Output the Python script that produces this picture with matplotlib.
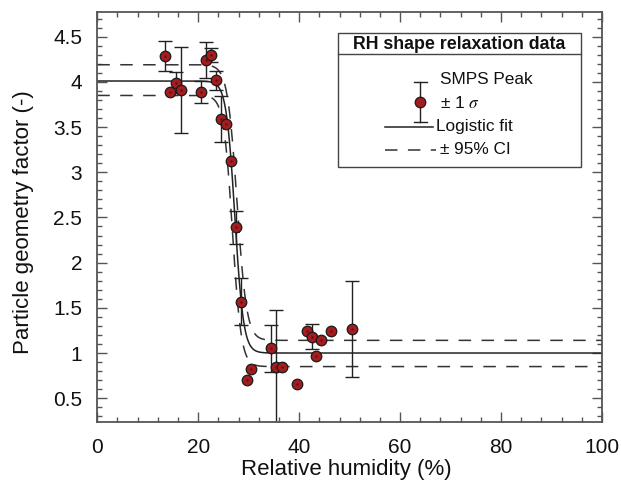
import numpy as np
import matplotlib
matplotlib.use("Agg")
import matplotlib.pyplot as plt
from matplotlib.patches import Rectangle
from matplotlib.lines import Line2D

plt.rcParams['font.family'] = ['Liberation Sans', 'DejaVu Sans']
plt.rcParams['mathtext.fontset'] = 'stix'
plt.rcParams['lines.scale_dashes'] = False

# ---- data ----
rh = [13.5, 14.5, 15.5, 16.6, 20.5, 21.5, 22.5, 23.5, 24.5, 25.5, 26.5,
      27.5, 28.5, 29.6, 30.4, 34.5, 35.5, 36.5, 39.5, 41.5, 42.5, 43.4,
      44.4, 46.4, 50.5]
factor = [4.29, 3.89, 3.99, 3.91, 3.89, 4.24, 4.30, 4.02, 3.59, 3.53, 3.13,
          2.39, 1.57, 0.70, 0.82, 1.05, 0.85, 0.85, 0.66, 1.24, 1.18, 0.97,
          1.14, 1.24, 1.27]
sigma = [0.165, 0.0, 0.117, 0.48, 0.12, 0.20, 0.078, 0.105, 0.255, 0.0, 0.0,
         0.18, 0.265, 0.0, 0.0, 0.263, 0.627, 0.0, 0.0, 0.0, 0.14, 0.0,
         0.0, 0.0, 0.53]

# logistic fit parameters: (low plateau, high plateau, centre, width)
fit_params = (1.00, 4.01, 27.26, 0.855)
ci_upper_params = (1.14, 4.19, 27.69, 0.95)
ci_lower_params = (0.85, 3.85, 26.77, 0.873)

x_ticks = [0, 20, 40, 60, 80, 100]
y_ticks = [0.5, 1, 1.5, 2, 2.5, 3, 3.5, 4, 4.5]
y_ticklabels = ['0.5', '1', '1.5', '2', '2.5', '3', '3.5', '4', '4.5']


def logistic(x, p):
    lo, hi, x0, w = p
    return lo + (hi - lo) / (1.0 + np.exp((x - x0) / w))


W, H = 621, 483
fig = plt.figure(figsize=(W / 100, H / 100), dpi=100)
ax = fig.add_axes([97.3 / W, 1 - 421.7 / H, (602 - 97.3) / W, (421.7 - 12.3) / H])

line_col = '#222222'
marker_col = '#A31C1F'

xx = np.linspace(0, 100, 2001)
ax.plot(xx, logistic(xx, fit_params), color=line_col, lw=1.1, zorder=2)
for p in (ci_upper_params, ci_lower_params):
    ax.plot(xx, logistic(xx, p), color='#333333', lw=1.1,
            dashes=(9, 7.5), zorder=2)

rh_a = np.array(rh)
f_a = np.array(factor)
s_a = np.array(sigma)
m = s_a > 0
ax.errorbar(rh_a[m], f_a[m], yerr=s_a[m], fmt='none', ecolor=line_col,
            elinewidth=1.0, capsize=4.7, capthick=1.0, zorder=2.5)
ax.plot(rh_a, f_a, 'o', ms=7.6, mfc=marker_col, mec='#1a1a1a', mew=0.9,
        zorder=3, clip_on=False)
ax.plot(rh_a, f_a, '.', ms=1.2, color='#5a0c0c', zorder=3.5)

ax.set_xlim(0, 100)
ax.set_ylim(0.24, 4.77)
ax.set_xticks(x_ticks)
ax.set_xticks(np.arange(0, 101, 4), minor=True)
ax.set_yticks(y_ticks)
ax.set_yticklabels(y_ticklabels)
ax.set_yticks(np.arange(0.3, 4.75, 0.1), minor=True)

spine_col = '#555555'
for s in ax.spines.values():
    s.set_color(spine_col)
    s.set_linewidth(1.3)
ax.tick_params(which='both', direction='in', top=True, right=True,
               color=spine_col, width=1.0, labelsize=15, labelcolor='#111111')
ax.tick_params(which='major', length=7.2)
ax.tick_params(which='minor', length=3.6)
ax.tick_params(axis='y', pad=11)
ax.tick_params(axis='x', pad=11.5)

ax.set_xlabel('Relative humidity (%)', fontsize=16, color='#111111')
ax.set_ylabel('Particle geometry factor (-)', fontsize=16, color='#111111')
ax.xaxis.set_label_coords(0.4928, -0.0918)
ax.yaxis.set_label_coords(-0.1264, 0.4885)


# ---- legend drawn in figure pixel space ----
def fx(x):
    return x / W


def fy(y):
    return 1 - y / H


leg_edge = '#444444'
fig.add_artist(Rectangle((fx(338.3), fy(166.7)), (580.7 - 338.3) / W,
                         (166.7 - 33.3) / H, transform=fig.transFigure,
                         facecolor='white', edgecolor=leg_edge, lw=1.0, zorder=5))
fig.add_artist(Line2D([fx(338.3), fx(580.7)], [fy(54), fy(54)],
                      transform=fig.transFigure, color=leg_edge, lw=1.0, zorder=6))
fig.text(fx(459.5), fy(44.5), 'RH shape relaxation data', ha='center', va='center',
         fontsize=12.8, fontweight='bold', color='#111111', zorder=7)
# errorbar sample
xe = 420
fig.add_artist(Line2D([fx(xe), fx(xe)], [fy(82.3), fy(121.7)],
                      transform=fig.transFigure, color=line_col, lw=1.0, zorder=6))
for yc in (82.3, 121.7):
    fig.add_artist(Line2D([fx(xe - 6.5), fx(xe + 6.5)], [fy(yc), fy(yc)],
                          transform=fig.transFigure, color=line_col, lw=1.0, zorder=6))
fig.add_artist(Line2D([fx(xe)], [fy(101.7)], transform=fig.transFigure,
                      marker='o', ms=7.6, mfc=marker_col, mec='#1a1a1a', mew=0.9,
                      zorder=7))
fig.text(fx(440), fy(80), 'SMPS Peak', ha='left', va='center', fontsize=12.4,
         color='#111111', zorder=7)
fig.text(fx(440), fy(103), r'± 1 $\sigma$', ha='left', va='center', fontsize=12.4,
         color='#111111', zorder=7)
fig.add_artist(Line2D([fx(385), fx(433)], [fy(127), fy(127)],
                      transform=fig.transFigure, color=line_col, lw=1.1, zorder=6))
fig.text(fx(436), fy(127), 'Logistic fit', ha='left', va='center', fontsize=12.4,
         color='#111111', zorder=7)
fig.add_artist(Line2D([fx(385), fx(436)], [fy(150), fy(150)],
                      transform=fig.transFigure, color='#333333', lw=1.1,
                      dashes=(9, 7.5), zorder=6))
fig.text(fx(440), fy(150), '± 95% CI', ha='left', va='center', fontsize=12.4,
         color='#111111', zorder=7)

fig.savefig('out.png', dpi=100)
